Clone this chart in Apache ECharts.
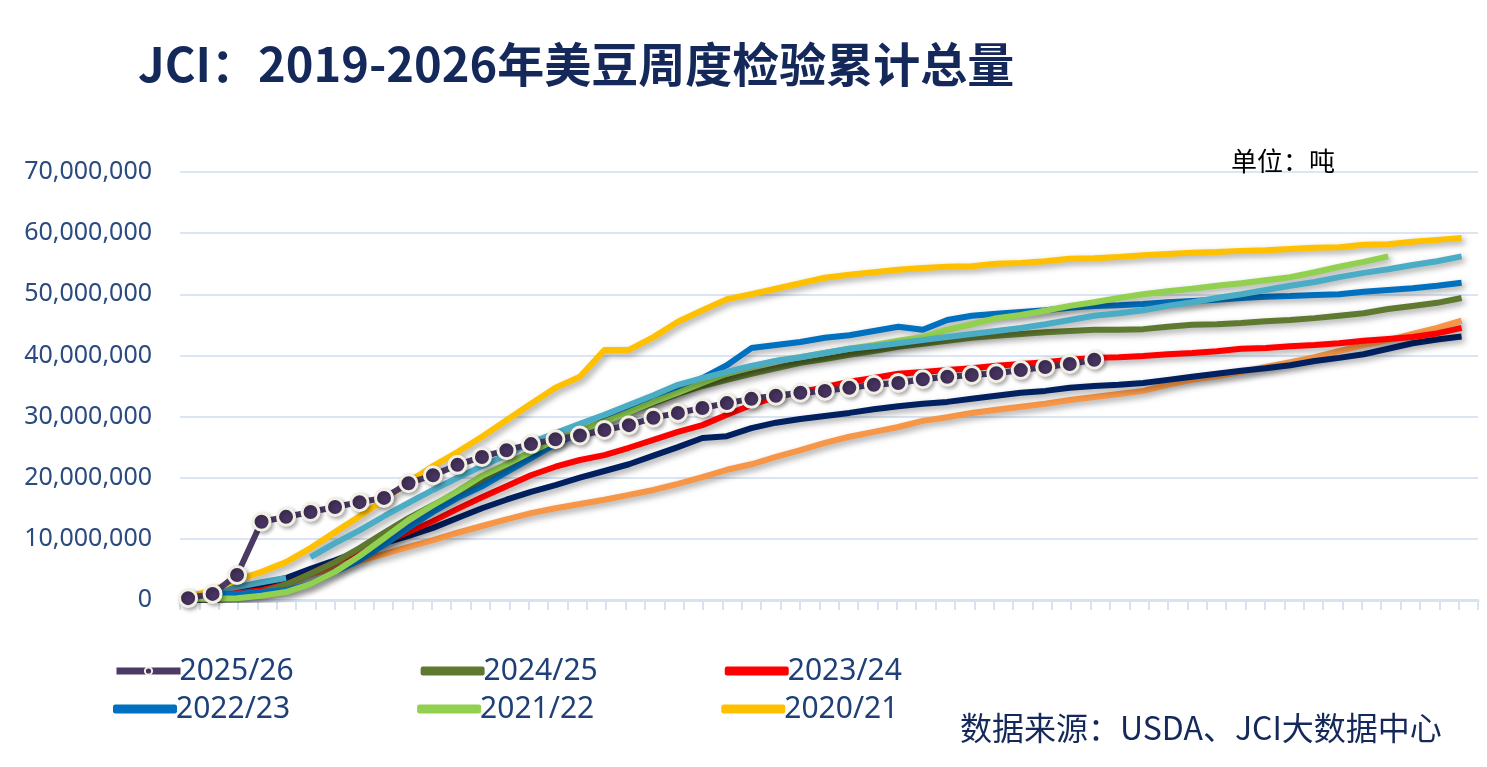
<!DOCTYPE html>
<html><head><meta charset="utf-8">
<script src="https://cdn.jsdelivr.net/npm/echarts@6/dist/echarts.min.js"></script>
<style>html,body{margin:0;padding:0;background:#fff}#c{width:1487px;height:767px}</style>
</head><body><div id="c"></div>
<script>
const s2526=[0.3,1.0,4.1,12.8,13.6,14.4,15.2,16.0,16.7,19.1,20.4,22.1,23.4,24.5,25.5,26.3,26.9,27.8,28.6,29.8,30.6,31.4,32.2,32.9,33.4,33.9,34.2,34.7,35.2,35.5,36.1,36.5,36.8,37.1,37.6,38.1,38.6,39.3];
const s2425=[0.3,0.3,0.7,1.3,2.5,4.3,6.2,8.5,11.0,13.4,15.5,17.5,19.6,21.8,23.7,25.7,27.5,29.3,30.7,32.2,33.7,35.0,36.0,37.0,37.9,38.8,39.4,40.1,40.7,41.4,41.9,42.4,42.9,43.2,43.5,43.8,44.0,44.2,44.2,44.3,44.7,45.0,45.1,45.3,45.6,45.8,46.1,46.5,46.9,47.6,48.1,48.6,49.4];
const s2324=[0.3,0.7,1.1,1.6,2.5,4.3,6.2,7.9,9.5,11.1,12.9,14.9,16.8,18.6,20.4,21.8,22.9,23.7,24.9,26.2,27.5,28.6,30.3,31.9,33.2,34.0,34.8,35.7,36.3,37.0,37.3,37.6,37.9,38.3,38.6,38.9,39.3,39.6,39.7,39.9,40.2,40.4,40.7,41.1,41.2,41.5,41.7,42.0,42.4,42.7,43.0,43.6,44.5];
const s2223=[0.5,0.7,1.0,1.3,1.6,2.6,4.6,6.5,9.0,11.8,14.4,16.7,18.6,20.9,23.2,25.5,27.3,29.1,31.1,32.7,34.3,36.3,38.4,41.2,41.7,42.2,42.9,43.3,44.0,44.7,44.2,45.8,46.5,46.8,47.1,47.4,47.8,48.1,48.2,48.4,48.7,48.9,49.1,49.4,49.6,49.7,49.9,50.0,50.4,50.7,51.0,51.4,51.9];
const s2122=[0.2,0.2,0.3,0.7,1.3,2.6,4.6,7.2,10.1,13.1,15.5,17.8,20.3,22.2,24.2,26.2,27.8,29.1,30.7,32.4,33.9,35.5,37.0,38.1,39.1,39.7,40.4,41.1,41.7,42.4,43.0,44.2,45.1,46.1,46.6,47.3,48.1,48.7,49.4,50.0,50.5,50.9,51.4,51.8,52.3,52.8,53.6,54.5,55.3,56.2];
const s2021=[0.5,1.6,3.3,4.6,6.2,8.5,11.1,13.7,16.4,19.3,21.9,24.2,26.7,29.4,32.1,34.7,36.5,40.9,40.9,43.0,45.5,47.4,49.2,50.0,50.9,51.8,52.7,53.2,53.6,54.0,54.3,54.5,54.6,55.0,55.1,55.4,55.8,55.9,56.1,56.4,56.6,56.8,56.9,57.1,57.2,57.4,57.6,57.7,58.1,58.2,58.6,58.9,59.2];
const tealEarly=[0.5,1.1,2.1,2.9,3.6];
const teal=[null,null,null,null,null,7.0,9.3,11.4,13.7,15.9,18.0,20.0,21.9,23.7,25.7,27.3,28.8,30.3,31.9,33.5,35.2,36.3,37.3,38.3,39.1,39.7,40.4,41.1,41.5,42.0,42.5,43.0,43.5,44.0,44.5,45.1,45.8,46.5,46.9,47.4,48.1,48.7,49.4,50.0,50.7,51.4,52.0,52.8,53.5,54.1,54.8,55.4,56.2];
const navy=[0.3,0.7,1.3,2.5,3.6,5.1,6.5,8.0,9.3,10.5,11.8,13.4,15.0,16.4,17.7,18.8,20.0,21.1,22.2,23.6,25.0,26.5,26.8,28.1,29.0,29.6,30.1,30.6,31.2,31.7,32.1,32.4,32.9,33.4,33.9,34.2,34.7,35.0,35.2,35.5,36.0,36.5,37.0,37.5,37.9,38.4,39.1,39.6,40.2,41.1,42.0,42.6,43.1];
const orange=[0.5,1.1,1.8,2.5,3.1,4.3,5.2,6.4,7.5,8.7,9.8,11.0,12.1,13.2,14.2,15.0,15.7,16.4,17.2,18.0,19.0,20.1,21.3,22.2,23.4,24.5,25.7,26.7,27.5,28.3,29.3,29.9,30.6,31.1,31.6,32.1,32.7,33.2,33.7,34.2,35.2,36.0,36.6,37.3,38.1,38.9,39.7,40.7,41.7,42.5,43.5,44.5,45.7];
const tickCats=Array.from({length:67},(_,i)=>String(i+1));

const OFF=0.33;
const pts=a=>a.map((v,i)=>[i+OFF, v==null?'-':v*1e6]);
function line(name,data,color,extra){
  return Object.assign({name,type:'line',xAxisIndex:0,data:pts(data),showSymbol:false,symbol:'none',
    lineStyle:{color,width:6,shadowColor:'rgba(0,0,0,0.35)',shadowBlur:6,shadowOffsetX:3,shadowOffsetY:3},
    itemStyle:{color},z:2},extra||{});
}
const chart=echarts.init(document.getElementById('c'));
const legText={fontSize:30,color:'#1f3f77',fontFamily:'Liberation Sans Narrow, Noto Sans',padding:[0,0,0,-6]};
const rr={icon:'roundRect'};
chart.setOption({
  animation:false,
  title:[{text:'JCI：2019-2026年美豆周度检验累计总量',left:133,top:36,textStyle:{fontSize:47,fontWeight:'bold',color:'#14285a',fontFamily:'Noto Sans CJK SC'}},
    {text:'单位：吨',left:1226,top:143,textStyle:{fontSize:26,fontWeight:'normal',color:'#000',fontFamily:'Noto Sans CJK SC'}},
    {text:'数据来源：USDA、JCI大数据中心',left:955,top:707,textStyle:{fontSize:32,fontWeight:'normal',color:'#14285a',fontFamily:'Noto Sans CJK SC'}}],
  grid:{left:180,right:9,top:172,bottom:167},
  legend:[{data:['2025/26',Object.assign({name:'2024/25'},rr),Object.assign({name:'2023/24'},rr)],left:108,top:651,itemWidth:64,itemHeight:9,itemGap:127,textStyle:legText,lineStyle:{width:7}},
    {data:[Object.assign({name:'2022/23'},rr),Object.assign({name:'2021/22'},rr),Object.assign({name:'2020/21'},rr)],left:108,top:689,itemWidth:64,itemHeight:9,itemGap:127,textStyle:legText}],
  xAxis:[{type:'value',min:0,max:53,show:false},
    {type:'category',data:tickCats,boundaryGap:true,position:'bottom',
     axisLine:{lineStyle:{color:'#d6e3f3',width:3}},axisTick:{show:true,length:10,lineStyle:{color:'#d6e3f3',width:2}},axisLabel:{show:false}}],
  yAxis:{type:'value',min:0,max:70000000,interval:10000000,
    axisLabel:{fontSize:25,color:'#2a4a80',fontFamily:'Liberation Sans Narrow, Noto Sans',margin:28,formatter:v=>v.toLocaleString('en-US')},
    axisLine:{show:false},axisTick:{show:false},splitLine:{lineStyle:{color:'#dbe5f3',width:2}}},
  series:[
    line('orange',orange,'#f79646'),
    line('navy',navy,'#002060'),
    line('tealEarly',tealEarly,'#4bacc6'),
    line('2020/21',s2021,'#ffc000'),
    line('2023/24',s2324,'#ff0000'),
    line('2024/25',s2425,'#5f7a30'),
    line('2022/23',s2223,'#0070c0'),
    line('2021/22',s2122,'#92d050'),
    line('teal',teal,'#4bacc6'),
    line('2025/26',s2526,'#4b3a63',{showSymbol:true,symbol:'circle',symbolSize:17,z:5,
      itemStyle:{color:'#46335f',borderColor:'#f2efe4',borderWidth:3,shadowColor:'rgba(0,0,0,0.3)',shadowBlur:4,shadowOffsetX:2,shadowOffsetY:2},
      lineStyle:{color:'#4b3a63',width:6}})
  ]
});
</script></body></html>
